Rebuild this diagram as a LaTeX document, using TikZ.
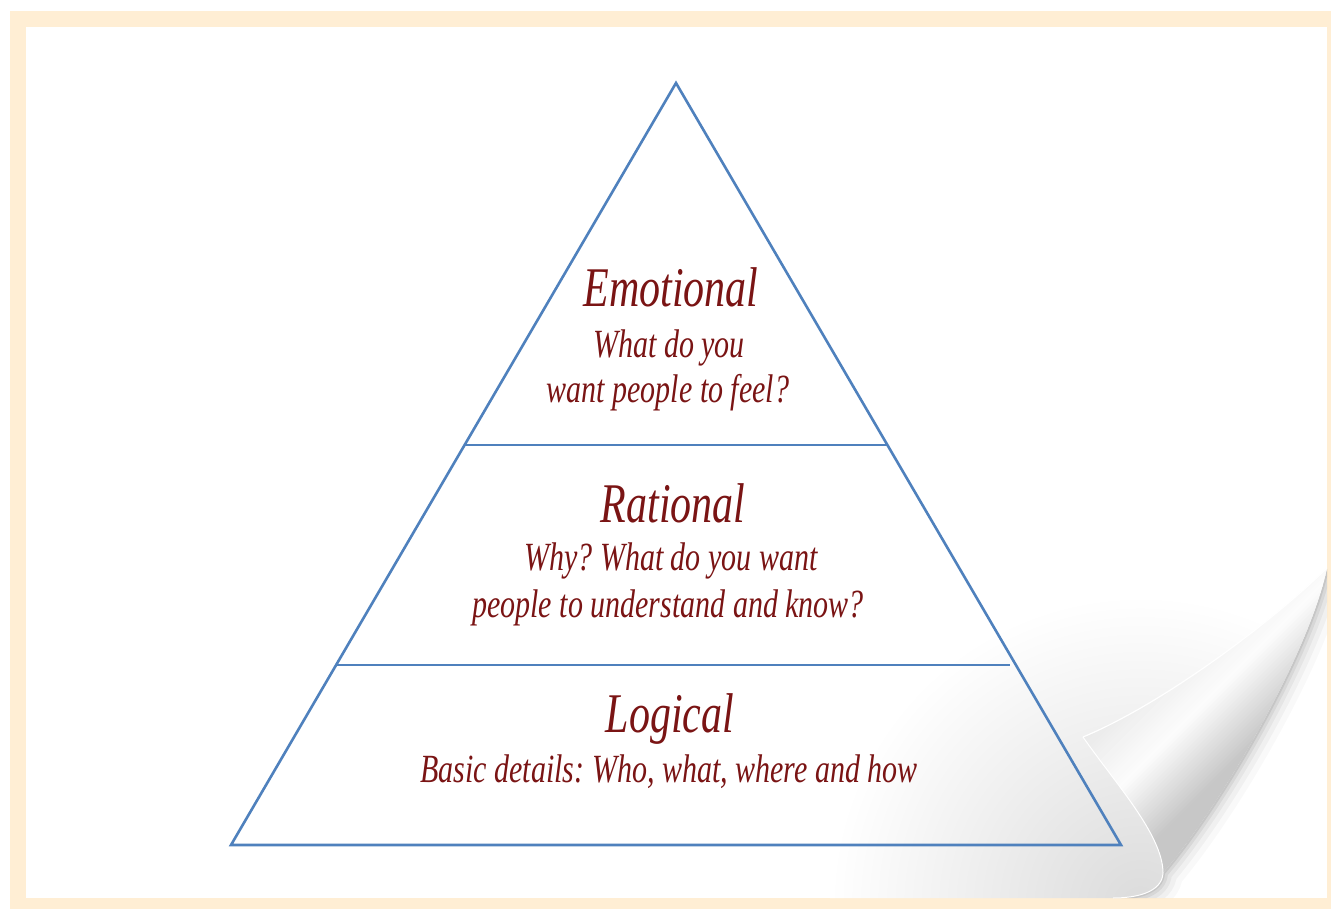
\documentclass[tikz,border=0pt]{standalone}
\usepackage{fontspec}
\newfontfamily\hand{Liberation Serif}[FakeStretch=0.75]
\definecolor{cream}{RGB}{255,238,212}
\definecolor{pyblue}{RGB}{79,129,189}
\definecolor{txtred}{RGB}{122,20,20}
\frenchspacing
\begin{document}
\begin{tikzpicture}[x=1pt,y=-1pt,
  edge/.style={draw=pyblue,line width=2.6pt,line join=miter},
  title/.style={font=\hand\itshape\fontsize{56}{60}\selectfont\frenchspacing,text=txtred,anchor=base,inner sep=0pt},
  sub/.style={font=\hand\itshape\fontsize{40}{45}\selectfont\frenchspacing,text=txtred,anchor=base,inner sep=0pt}]
\useasboundingbox (0,0) rectangle (1331,909);
\fill[white] (0,0) rectangle (1331,909);
\fill[cream] (10,11) rectangle (1331,909);
\fill[white] (26,27) rectangle (1327,898);
% curl key points
\coordinate (T) at (1083,737);
\coordinate (R) at (1327,568);
\coordinate (K) at (1163,873);
\coordinate (F) at (1113,898);
% page shading near the curl
\begin{scope}
\clip (26,27) -- (1327,27) -- (R) .. controls (1265,628) and (1160,705) .. (T)
  .. controls (1115,783) and (1163,835) .. (K) .. controls (1162,893) and (1135,898) .. (F)
  -- (26,898) -- cycle;
\shade[inner color=gray!28,outer color=white] (1140,905) circle (310);
\end{scope}
% pyramid
\coordinate (A) at (676,83);
\coordinate (BL) at (231,845);
\coordinate (BR) at (1121,845);
\coordinate (L1a) at (465,445);
\coordinate (L1b) at (887,445);
\coordinate (L2a) at (336,665);
\coordinate (L2b) at (1010,665);
\draw[edge] (A) -- (BL) -- (BR) -- cycle;
\draw[edge] (L1a) -- (L1b);
\draw[edge] (L2a) -- (L2b);
% texts
\node[title] (emo) at (671,307) {Emotional};
\node[sub] (emo1) at (669,357) {What do you};
\node[sub] (emo2) at (668,402) {want people to feel?};
\node[title] (rat) at (673,522) {Rational};
\node[sub] (rat1) at (671,570) {Why? What do you want};
\node[sub] (rat2) at (668,617) {people to understand and know?};
\node[title] (log) at (670,732) {Logical};
\node[sub] (log1) at (669,782) {Basic details: Who, what, where and how};
% shadow of the flap on the background
\begin{scope}
\clip (R) .. controls (1310,650) and (1225,800) .. (K) .. controls (1162,893) and (1135,898) .. (F)
  -- (1327,898) -- cycle;
\foreach \w/\o in {40/0.025,28/0.035,18/0.045,10/0.06,4/0.08}
  \draw[black,line width=\w pt,opacity=\o] (R) .. controls (1310,650) and (1225,800) .. (K)
    .. controls (1162,893) and (1135,898) .. (F);
\end{scope}
% flap with stripe shading
\begin{scope}
\clip (T) .. controls (1160,705) and (1265,628) .. (R)
  .. controls (1310,650) and (1225,800) .. (K)
  .. controls (1163,835) and (1115,783) .. (T) -- cycle;
\foreach \c in {1812,1816,...,2044}{
  \pgfmathsetmacro{\p}{\c<1906 ? 9-8*(\c-1812)/94 : min(22,1+20*(\c-1906)/84)}
  \fill[black!\p] (\c-500,500) -- (\c+5-500,500) -- (\c+5-950,950) -- (\c-950,950) -- cycle;
}
\end{scope}
\draw[white,line width=1.2pt] (T) .. controls (1160,705) and (1265,628) .. (R);
\draw[white,line width=1pt] (T) .. controls (1115,783) and (1163,835) .. (K)
  .. controls (1162,893) and (1135,898) .. (F);
\end{tikzpicture}
\end{document}
